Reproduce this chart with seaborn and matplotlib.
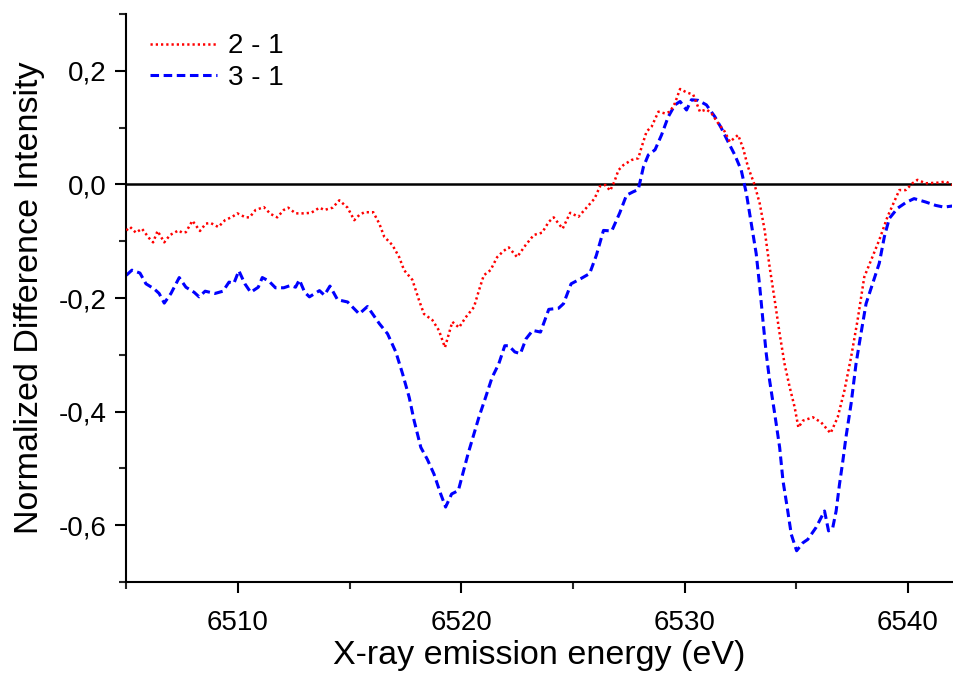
import matplotlib
matplotlib.use("Agg")
import matplotlib.pyplot as plt
import matplotlib.ticker as mticker
import pandas as pd
import seaborn as sns

# 2 - 1 difference spectrum
energy_21 = [6505.0, 6505.17, 6505.43, 6505.7, 6506.03, 6506.2, 6506.4, 6506.7, 6506.96, 6507.34,
             6507.5, 6507.67, 6507.96, 6508.3, 6508.56, 6508.78, 6509.12, 6509.42, 6509.75, 6509.97,
             6510.34, 6510.52, 6510.79, 6511.16, 6511.46, 6511.76, 6512.05, 6512.25, 6512.58, 6512.95,
             6513.28, 6513.65, 6513.87, 6514.24, 6514.54, 6514.91, 6515.21, 6515.43, 6515.66, 6516.06,
             6516.33, 6516.55, 6516.92, 6517.22, 6517.44, 6517.81, 6518.11, 6518.33, 6518.71, 6519.0,
             6519.27, 6519.6, 6519.9, 6520.2, 6520.57, 6520.79, 6521.01, 6521.31, 6521.61, 6521.9,
             6522.13, 6522.5, 6522.88, 6523.25, 6523.62, 6523.92, 6524.14, 6524.54, 6524.88, 6525.25,
             6525.63, 6525.97, 6526.22, 6526.45, 6526.67, 6526.86, 6527.04, 6527.26, 6527.63, 6527.93,
             6528.08, 6528.3, 6528.53, 6528.83, 6529.12, 6529.35, 6529.57, 6529.8, 6530.09, 6530.39,
             6530.69, 6530.98, 6531.21, 6531.5, 6531.8, 6532.03, 6532.4, 6532.62, 6532.84, 6533.14,
             6533.37, 6533.59, 6533.81, 6534.04, 6534.26, 6534.48, 6534.71, 6534.93, 6535.1, 6535.3,
             6535.52, 6535.75, 6536.12, 6536.54, 6536.86, 6537.16, 6537.46, 6537.75, 6538.05, 6538.35,
             6538.72, 6539.09, 6539.62, 6539.91, 6540.21, 6540.43, 6540.8, 6541.33, 6541.7, 6542.0]
diff_21 = [-0.081, -0.075, -0.085, -0.078, -0.095, -0.102, -0.082, -0.102, -0.089, -0.081,
           -0.085, -0.084, -0.064, -0.082, -0.069, -0.068, -0.075, -0.063, -0.057, -0.051,
           -0.058, -0.058, -0.045, -0.040, -0.052, -0.058, -0.045, -0.041, -0.051, -0.051,
           -0.050, -0.041, -0.045, -0.041, -0.028, -0.041, -0.063, -0.054, -0.049, -0.049,
           -0.069, -0.092, -0.107, -0.128, -0.151, -0.168, -0.204, -0.228, -0.239, -0.257,
           -0.287, -0.242, -0.252, -0.234, -0.216, -0.187, -0.160, -0.151, -0.128, -0.117,
           -0.111, -0.128, -0.107, -0.089, -0.085, -0.066, -0.058, -0.078, -0.050, -0.057,
           -0.040, -0.025, -0.003, -0.001, -0.011, 0.005, 0.025, 0.034, 0.043, 0.046,
           0.066, 0.093, 0.102, 0.128, 0.125, 0.128, 0.143, 0.168, 0.162, 0.158,
           0.128, 0.132, 0.125, 0.108, 0.093, 0.075, 0.087, 0.064, 0.031, -0.001,
           -0.034, -0.081, -0.145, -0.204, -0.263, -0.316, -0.357, -0.392, -0.428, -0.416,
           -0.413, -0.410, -0.419, -0.438, -0.410, -0.363, -0.304, -0.239, -0.163, -0.134,
           -0.098, -0.057, -0.010, -0.010, 0.002, 0.008, 0.002, 0.003, 0.005, -0.001]

# 3 - 1 difference spectrum
energy_31 = [6505.0, 6505.25, 6505.61, 6505.88, 6506.25, 6506.47, 6506.7, 6507.0, 6507.37, 6507.67,
             6508.04, 6508.26, 6508.53, 6508.97, 6509.33, 6509.6, 6509.82, 6510.04, 6510.31, 6510.57,
             6510.91, 6511.09, 6511.38, 6511.68, 6512.05, 6512.35, 6512.58, 6512.75, 6512.99, 6513.2,
             6513.65, 6513.87, 6514.12, 6514.46, 6514.91, 6515.43, 6515.8, 6516.33, 6516.7, 6517.07,
             6517.37, 6517.67, 6517.89, 6518.19, 6518.48, 6518.78, 6519.08, 6519.3, 6519.57, 6519.87,
             6520.3, 6520.79, 6521.09, 6521.38, 6521.68, 6521.95, 6522.13, 6522.4, 6522.65, 6522.9,
             6523.2, 6523.55, 6523.92, 6524.36, 6524.58, 6524.92, 6525.35, 6525.75, 6526.05, 6526.37,
             6526.74, 6527.1, 6527.4, 6527.7, 6527.93, 6528.16, 6528.38, 6528.68, 6528.97, 6529.27,
             6529.57, 6529.8, 6530.09, 6530.31, 6530.61, 6530.98, 6531.36, 6531.65, 6531.95, 6532.25,
             6532.54, 6532.77, 6532.99, 6533.21, 6533.37, 6533.51, 6533.66, 6533.81, 6534.04, 6534.26,
             6534.41, 6534.6, 6534.78, 6535.02, 6535.3, 6535.52, 6535.89, 6536.27, 6536.45, 6536.64,
             6536.79, 6536.94, 6537.09, 6537.23, 6537.46, 6537.68, 6537.9, 6538.13, 6538.42, 6538.72,
             6538.95, 6539.17, 6539.54, 6539.91, 6540.28, 6540.8, 6541.25, 6541.62, 6542.0]
diff_31 = [-0.160, -0.151, -0.156, -0.175, -0.184, -0.192, -0.209, -0.192, -0.164, -0.181,
           -0.190, -0.198, -0.188, -0.192, -0.188, -0.172, -0.174, -0.152, -0.175, -0.190,
           -0.181, -0.164, -0.170, -0.182, -0.182, -0.178, -0.181, -0.168, -0.190, -0.198,
           -0.187, -0.195, -0.179, -0.203, -0.207, -0.228, -0.215, -0.245, -0.263, -0.295,
           -0.333, -0.375, -0.416, -0.463, -0.484, -0.510, -0.545, -0.568, -0.545, -0.539,
           -0.475, -0.410, -0.375, -0.340, -0.316, -0.284, -0.284, -0.295, -0.298, -0.272,
           -0.257, -0.260, -0.220, -0.218, -0.210, -0.175, -0.166, -0.157, -0.125, -0.081,
           -0.082, -0.050, -0.019, -0.013, -0.009, 0.031, 0.052, 0.061, 0.087, 0.119,
           0.140, 0.146, 0.131, 0.149, 0.148, 0.140, 0.119, 0.099, 0.075, 0.052,
           0.025, -0.016, -0.069, -0.122, -0.181, -0.239, -0.298, -0.345, -0.404, -0.463,
           -0.522, -0.569, -0.616, -0.645, -0.631, -0.625, -0.604, -0.575, -0.610, -0.604,
           -0.575, -0.528, -0.487, -0.445, -0.386, -0.316, -0.263, -0.210, -0.175, -0.139,
           -0.092, -0.060, -0.042, -0.032, -0.025, -0.031, -0.037, -0.040, -0.038]

x_ticks = [6510, 6520, 6530, 6540]
y_ticks = [-0.6, -0.4, -0.2, 0.0, 0.2]

df_21 = pd.DataFrame({'energy': energy_21, 'diff': diff_21})
df_31 = pd.DataFrame({'energy': energy_31, 'diff': diff_31})

sns.set_style('ticks')
plt.rcParams['font.family'] = ['Liberation Sans', 'DejaVu Sans']
plt.rcParams['text.color'] = 'black'
plt.rcParams['axes.labelcolor'] = 'black'

fig = plt.figure(figsize=(9.54, 6.73), dpi=100)
ax = fig.add_axes([0.1324, 0.1352, 0.866, 0.8440])

ax.axhline(0, color='black', lw=1.8, zorder=1)
sns.lineplot(data=df_21, x='energy', y='diff', ax=ax, color='red', lw=1.8,
             sort=False, label='2 - 1', zorder=3)
sns.lineplot(data=df_31, x='energy', y='diff', ax=ax, color='blue', lw=2.2,
             sort=False, label='3 - 1', zorder=2)
ax.lines[1].set_dashes((0.9, 1.2))
ax.lines[2].set_dashes((2.8, 1.5))

ax.set_xlim(6505, 6542)
ax.set_ylim(-0.7, 0.3)
ax.set_xticks(x_ticks)
ax.set_yticks(y_ticks)
ax.xaxis.set_minor_locator(mticker.MultipleLocator(5))
ax.yaxis.set_minor_locator(mticker.MultipleLocator(0.1))
ax.yaxis.set_major_formatter(mticker.FuncFormatter(lambda v, p: f'{v:.1f}'.replace('.', ',')))

for side in ['top', 'right']:
    ax.spines[side].set_visible(False)
for side in ['left', 'bottom']:
    ax.spines[side].set_linewidth(1.5)
    ax.spines[side].set_color('black')

ax.tick_params(which='major', length=8, width=1.5, labelsize=20, pad=6, colors='black')
ax.tick_params(which='minor', length=5, width=1.5)
ax.tick_params(axis='x', pad=12)

ax.set_xlabel('X-ray emission energy (eV)', fontsize=24.5, labelpad=3)
ax.set_ylabel('Normalized Difference Intensity', fontsize=24.5, labelpad=10)

handles, labels = ax.get_legend_handles_labels()
handles[0].set_dashes((0.9, 1.2))
handles[1].set_dashes((2.8, 1.5))
ax.legend(handles, labels, loc='upper left', bbox_to_anchor=(0.005, 1.0), frameon=False,
          fontsize=20, handlelength=2.4, handletextpad=0.4, labelspacing=0.2,
          borderaxespad=0.3)

fig.savefig('out.png', dpi=100)
